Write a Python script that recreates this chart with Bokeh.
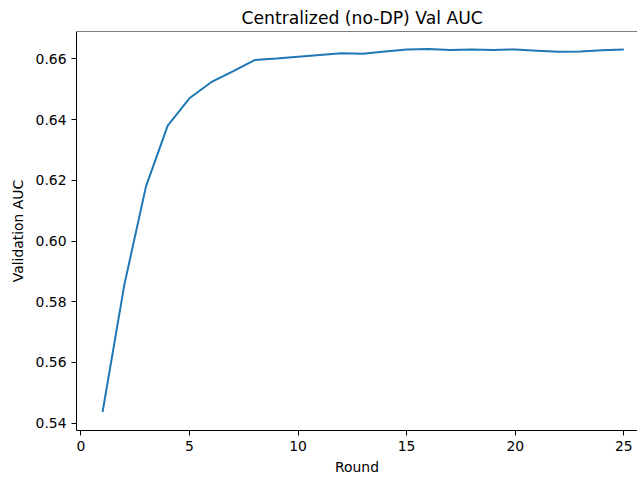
from bokeh.plotting import figure
from bokeh.models import LinearAxis, FixedTicker, Range1d, Title, NumeralTickFormatter, Span
from bokeh.embed import file_html
from bokeh.resources import INLINE

rounds = list(range(1, 26))
val_auc = [0.5437, 0.5855, 0.6180, 0.6380, 0.6470, 0.6523, 0.6559, 0.6596, 0.6601,
           0.6607, 0.6613, 0.6618, 0.6617, 0.6624, 0.6631, 0.6632, 0.6629, 0.6631,
           0.6629, 0.6631, 0.6627, 0.6623, 0.6624, 0.6628, 0.6631]
x_ticks = [0, 5, 10, 15, 20, 25]
y_ticks = [0.54, 0.56, 0.58, 0.60, 0.62, 0.64, 0.66]

FONT = "DejaVu Sans"
Y_TOP = 0.6690

p = figure(width=637, height=477, output_backend="svg", toolbar_location=None,
           x_range=Range1d(-0.2, 25.63), y_range=Range1d(0.5376, Y_TOP),
           min_border_left=76, min_border_right=0, min_border_top=31,
           min_border_bottom=46, x_axis_location=None, y_axis_location=None)
p.outline_line_color = None
p.grid.visible = False
p.background_fill_color = "white"
p.border_fill_color = "white"

t = Title(text="Centralized (no-DP) Val AUC", align="left", offset=165,
          text_font=FONT, text_font_size="17.2px", text_font_style="normal",
          text_color="black", standoff=7)
p.add_layout(t, "above")

def style(ax):
    ax.axis_line_color = "black"
    ax.axis_line_width = 1
    ax.major_tick_line_color = "black"
    ax.major_tick_line_width = 1
    ax.major_tick_out = 5
    ax.major_tick_in = 0
    ax.minor_tick_line_color = None
    ax.major_label_text_font = FONT
    ax.major_label_text_font_size = "13.9px"
    ax.major_label_text_color = "black"
    ax.major_label_standoff = 5
    ax.axis_label_text_font = FONT
    ax.axis_label_text_font_size = "13.9px"
    ax.axis_label_text_font_style = "normal"
    ax.axis_label_text_color = "black"

xa = LinearAxis(ticker=FixedTicker(ticks=x_ticks), axis_label="Round")
style(xa)
xa.axis_label_standoff = 5
p.add_layout(xa, "below")

ya = LinearAxis(ticker=FixedTicker(ticks=y_ticks), axis_label="Validation AUC",
                formatter=NumeralTickFormatter(format="0.00"))
style(ya)
ya.axis_label_standoff = 7
p.add_layout(ya, "left")

p.add_layout(Span(location=Y_TOP, dimension="width", line_color="black", line_width=1))

p.line(rounds, val_auc, line_color="#1f77b4", line_width=2)

open("out.html", "w").write(file_html(p, INLINE))
